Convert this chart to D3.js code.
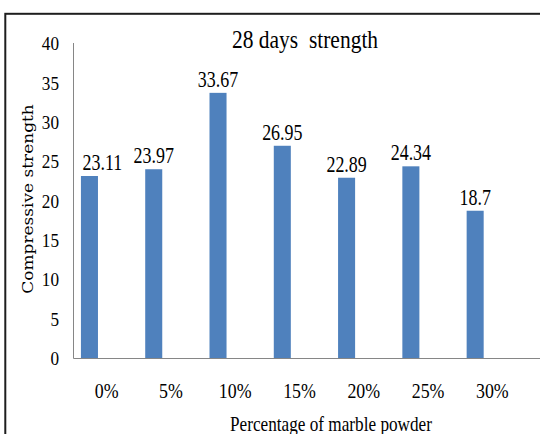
<!DOCTYPE html>
<html>
<head>
<meta charset="utf-8">
<script src="https://cdn.jsdelivr.net/npm/d3@7"></script>
<style>
  html, body { margin: 0; padding: 0; background: #fff; }
  svg { display: block; }
</style>
</head>
<body>
<svg id="chart" width="540" height="434"></svg>
<script>
// Compressive strength at 28 days for each marble powder replacement level
const categories = ["0%", "5%", "10%", "15%", "20%", "25%", "30%"];
const strength = [23.11, 23.97, 33.67, 26.95, 22.89, 24.34, 18.7];
const yTicks = [0, 5, 10, 15, 20, 25, 30, 35, 40];
const titleText = "28 days  strength";
const xTitleText = "Percentage of marble powder";
const yTitleText = "Compressive strength";

const svg = d3.select("#chart");
const serif = "Liberation Serif, Times New Roman, serif";

// chart frame
svg.append("rect")
  .attr("x", 5.3).attr("y", 13.8)
  .attr("width", 620).attr("height", 520)
  .attr("fill", "none")
  .attr("stroke", "#1e1e1e")
  .attr("stroke-width", 2);

const axisX = 73.5;
const axisY = 358.5;

const x = d3.scaleBand()
  .domain(categories)
  .range([74.5, 524.5])
  .padding(0);

const y = d3.scaleLinear()
  .domain([0, 40])
  .range([358, 43]);

const step = x.step();
const barOffset = step * 0.1;
const barWidth = step * 0.265;

// bars
svg.append("g")
  .selectAll("rect")
  .data(strength)
  .join("rect")
  .attr("x", (d, i) => x(categories[i]) + barOffset)
  .attr("y", d => y(d))
  .attr("width", barWidth)
  .attr("height", d => y(0) - y(d))
  .attr("fill", "#4F81BD");

// y axis (line and labels only)
const yAxis = d3.axisLeft(y).tickValues(yTicks).tickSize(0).tickPadding(0);
const yg = svg.append("g").attr("transform", `translate(${axisX},0)`).call(yAxis);
yg.attr("font-family", serif);
yg.select(".domain").remove();
yg.selectAll(".tick text").remove();
yg.selectAll(".tick").each(function(d) {
  d3.select(this).append("text")
    .attr("transform", "translate(-14.5,0) scale(0.88,1)")
    .attr("text-anchor", "end")
    .attr("dy", "0.34em")
    .attr("font-family", serif)
    .attr("font-size", 19.5)
    .attr("fill", "#000")
    .text(d);
});
svg.append("line")
  .attr("x1", axisX).attr("x2", axisX)
  .attr("y1", y(40)).attr("y2", axisY)
  .attr("stroke", "#868686").attr("stroke-width", 1);

// x axis baseline and category labels
svg.append("line")
  .attr("x1", axisX).attr("x2", 540)
  .attr("y1", axisY).attr("y2", axisY)
  .attr("stroke", "#868686").attr("stroke-width", 1);

const xAxis = d3.axisBottom(x).tickSize(0).tickPadding(0);
const xg = svg.append("g").attr("transform", `translate(0,${axisY})`).call(xAxis);
xg.attr("font-family", serif);
xg.select(".domain").remove();
xg.selectAll(".tick text").remove();
xg.selectAll(".tick").append("text")
  .attr("transform", "translate(0,39) scale(0.85,1)")
  .attr("text-anchor", "middle")
  .attr("font-family", serif)
  .attr("font-size", 21)
  .attr("fill", "#000")
  .text(d => d);

// value labels above bars, kept clear of the value axis
const labelScale = 0.78;
svg.append("g")
  .selectAll("text")
  .data(strength)
  .join("text")
  .attr("text-anchor", "middle")
  .attr("font-family", serif)
  .attr("font-size", 23)
  .attr("fill", "#000")
  .text(d => d)
  .each(function(d, i) {
    const w = this.getComputedTextLength() * labelScale;
    const cx = Math.max(x(categories[i]) + barOffset + barWidth / 2, axisX + 9 + w / 2);
    d3.select(this).attr("transform", `translate(${cx},${y(d) - 6}) scale(${labelScale},1)`);
  });

// title
svg.append("text")
  .attr("transform", "translate(305,47.5) scale(0.86,1)")
  .attr("text-anchor", "middle")
  .attr("font-family", serif)
  .attr("font-size", 25)
  .attr("fill", "#000")
  .style("white-space", "pre")
  .text(titleText);

// axis titles
svg.append("text")
  .attr("transform", "translate(331,431) scale(0.86,1)")
  .attr("text-anchor", "middle")
  .attr("font-family", serif)
  .attr("font-size", 20)
  .attr("fill", "#000")
  .text(xTitleText);

svg.append("text")
  .attr("transform", "translate(33,199) scale(0.85,1) rotate(-90)")
  .attr("text-anchor", "middle")
  .attr("font-family", "DejaVu Serif, serif")
  .attr("font-size", 17)
  .attr("fill", "#000")
  .text(yTitleText);
</script>
</body>
</html>
